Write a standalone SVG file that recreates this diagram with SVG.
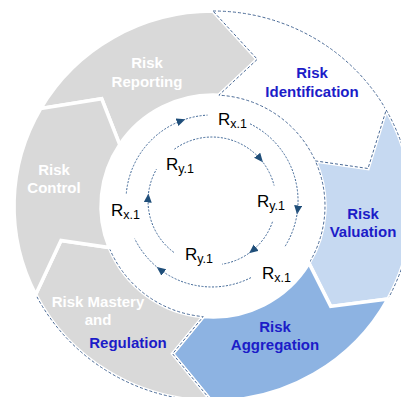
<svg xmlns="http://www.w3.org/2000/svg" width="401" height="397" viewBox="0 0 401 397">
<style>
.seg{stroke:#fff;stroke-width:3.5;stroke-linejoin:miter}
.dash{fill:none;stroke:#4a6a96;stroke-width:1;stroke-dasharray:3 2}
.lbl{font-family:"Liberation Sans",Arial,sans-serif;font-weight:bold;font-size:15px;text-anchor:middle}
.w{fill:#ffffff}
.b{fill:#1c1cc8}
.r{font-family:"Liberation Sans",Arial,sans-serif;font-size:17px;fill:#000}
.sub{font-size:12.5px}
.arc{fill:none;stroke:#3d6595;stroke-width:1;stroke-dasharray:2 1.5}
</style>
<defs>
<marker id="ah" markerUnits="userSpaceOnUse" markerWidth="10" markerHeight="9" refX="6" refY="4" orient="auto">
<path d="M0,0 L9,4 L0,8 Z" fill="#1f4e79"/>
</marker>
</defs>
<rect width="401" height="397" fill="#fff"/>
<g id="risk-reporting">
<path class="seg" fill="#d9d9d9" d="M40.7,108.5 A199 195 0 0 1 213,11 L257.3,59.3 L218.9,95.2 A112 111 0 0 0 119.7,144.6 L101.7,98.8 Z"/>
<text class="lbl w" x="147" y="68">Risk</text>
<text class="lbl w" x="147" y="87">Reporting</text>
</g>
<g id="risk-identification">
<path class="seg" fill="#ffffff" d="M213,11 A199 195 0 0 1 386.2,110 L368,168.5 L315.3,160.9 A112 111 0 0 0 218.9,95.2 L257.3,59.3 Z"/>
<path class="dash" d="M213,11 A199 195 0 0 1 386.2,110 L368,168.5 L315.3,160.9 A112 111 0 0 0 218.9,95.2 L257.3,59.3 Z"/>
<text class="lbl b" x="312" y="78">Risk</text>
<text class="lbl b" x="312" y="97">Identification</text>
</g>
<g id="risk-valuation">
<path class="seg" fill="#c6d9f1" d="M386.2,110 A199 195 0 0 1 387.9,299 L330.7,306.4 L309,263.2 A112 111 0 0 0 315.3,160.9 L368,168.5 Z"/>
<path class="dash" d="M386.2,110 A199 195 0 0 1 387.9,299 L330.7,306.4 L309,263.2 A112 111 0 0 0 315.3,160.9 L368,168.5 Z"/>
<text class="lbl b" x="363" y="219">Risk</text>
<text class="lbl b" x="363" y="237">Valuation</text>
</g>
<g id="risk-aggregation">
<path class="seg" fill="#8db3e2" d="M387.9,299 A199 195 0 0 1 211.3,401 L172.6,353.8 L203.2,316.6 A112 111 0 0 0 309,263.2 L330.7,306.4 Z"/>
<text class="lbl b" x="275" y="332">Risk</text>
<text class="lbl b" x="275" y="350">Aggregation</text>
</g>
<g id="risk-mastery">
<path class="seg" fill="#d9d9d9" d="M211.3,401 A199 195 0 0 1 35.7,294.5 L61,240.4 L109.2,247.6 A112 111 0 0 0 203.2,316.6 L172.6,353.8 Z"/>
<path class="dash" d="M211.3,401 A199 195 0 0 1 35.7,294.5 L61,240.4 L109.2,247.6 A112 111 0 0 0 203.2,316.6 L172.6,353.8 Z"/>
<text class="lbl w" x="98" y="307">Risk Mastery</text>
<text class="lbl w" x="98" y="325">and</text>
<text class="lbl b" x="128" y="348">Regulation</text>
</g>
<g id="risk-control">
<path class="seg" fill="#d9d9d9" d="M35.7,294.5 A199 195 0 0 1 40.7,108.5 L101.7,98.8 L119.7,144.6 A112 111 0 0 0 109.2,247.6 L61,240.4 Z"/>
<text class="lbl w" x="54" y="175">Risk</text>
<text class="lbl w" x="54" y="193">Control</text>
</g>
<g id="connectors">
<path class="arc" marker-end="url(#ah)" d="M250,123.8 A86 86 0 0 1 297.4,211.5"/>
<path class="arc" d="M297.4,211.5 A86 86 0 0 1 284.9,246.6"/>
<path class="arc" marker-end="url(#ah)" d="M251,277.6 A86 86 0 0 1 159.1,268.8"/>
<path class="arc" d="M159.1,268.8 A86 86 0 0 1 134.7,238.7"/>
<path class="arc" marker-end="url(#ah)" d="M126.3,193.5 A86 86 0 0 1 182.6,120.2"/>
<path class="arc" d="M182.6,120.2 A86 86 0 0 1 207.5,115.1"/>
<path class="arc" marker-end="url(#ah)" d="M174.4,149.2 A64 64 0 0 1 261,159.9"/>
<path class="arc" d="M261,159.9 A64 64 0 0 1 274.1,185.5"/>
<path class="arc" marker-end="url(#ah)" d="M272.5,221.8 A64 64 0 0 1 251.4,251.4"/>
<path class="arc" d="M251.4,251.4 A64 64 0 0 1 222,264.2"/>
<path class="arc" marker-end="url(#ah)" d="M173.9,252.4 A64 64 0 0 1 148.2,196.5"/>
<path class="arc" d="M148.2,196.5 A64 64 0 0 1 156.6,169"/>
</g>
<g id="labels">
<text class="r" x="218" y="125">R<tspan class="sub" dy="3">x.1</tspan></text>
<text class="r" x="166" y="170">R<tspan class="sub" dy="3">y.1</tspan></text>
<text class="r" x="257" y="207">R<tspan class="sub" dy="3">y.1</tspan></text>
<text class="r" x="111" y="216">R<tspan class="sub" dy="3">x.1</tspan></text>
<text class="r" x="185" y="260">R<tspan class="sub" dy="3">y.1</tspan></text>
<text class="r" x="262" y="279">R<tspan class="sub" dy="3">x.1</tspan></text>
</g>
</svg>
